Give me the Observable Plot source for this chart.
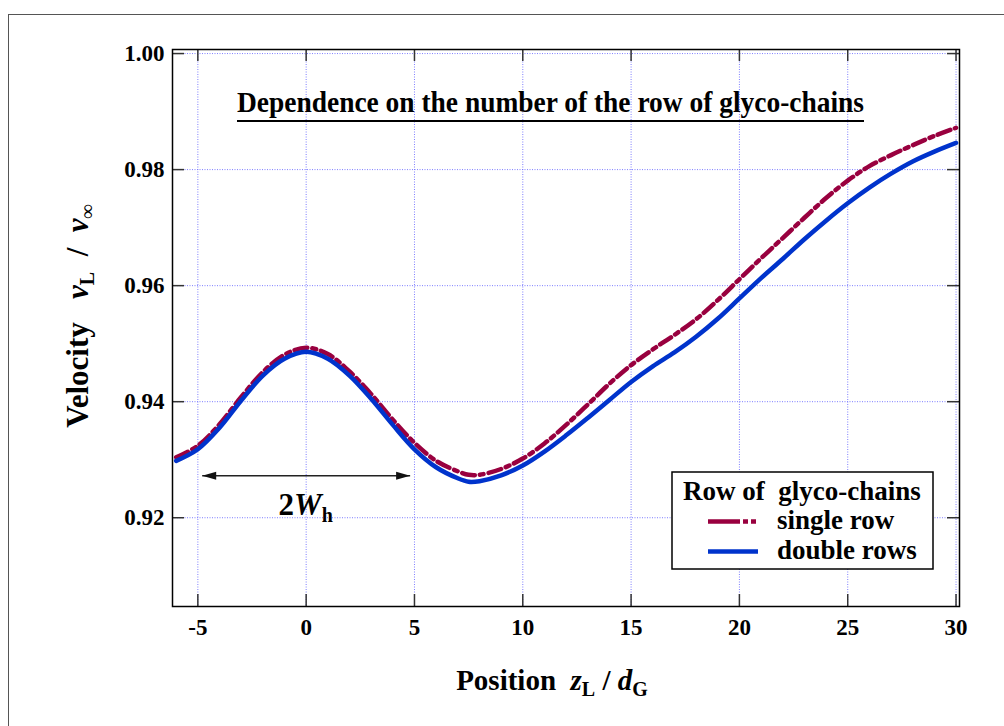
<!DOCTYPE html>
<html><head><meta charset="utf-8">
<script src="https://cdn.jsdelivr.net/npm/d3@7"></script>
<script src="https://cdn.jsdelivr.net/npm/@observablehq/plot@0.6"></script>
<style>
html,body{margin:0;padding:0;overflow:hidden;background:#fff;}
#wrap{position:relative;width:1004px;height:726px;}
#border{position:absolute;left:8px;top:14px;width:1100px;height:800px;border:1.5px solid #555;pointer-events:none;}
#chart{position:absolute;left:0;top:0;}
</style></head><body>
<div id="wrap"><div id="border"></div><div id="chart"></div></div>
<script>
// ---- data ----
const positions = [-6,-5,-4,-3,-2,-1,0,1,2,3,4,5,6,7,7.5,8,9,10,11,12,13,14,15,16,17,18,19,20,21,22,23,24,25,26,27,28,29,30];
const singleRow = [0.9304,0.9324,0.9361,0.9408,0.9451,0.9481,0.9493,0.9482,0.9452,0.9413,0.9369,0.9329,0.9298,0.9280,0.9274,0.9274,0.9284,0.9302,0.9328,0.9360,0.9395,0.9431,0.9463,0.9490,0.9515,0.9542,0.9575,0.9611,0.9647,0.9682,0.9717,0.9751,0.9781,0.9806,0.9825,0.9842,0.9858,0.9872];
const doubleRows = [0.9298,0.9318,0.9355,0.9402,0.9445,0.9474,0.9486,0.9474,0.9445,0.9405,0.9360,0.9318,0.9287,0.9268,0.9262,0.9263,0.9273,0.9290,0.9314,0.9342,0.9372,0.9403,0.9434,0.9461,0.9485,0.9512,0.9543,0.9578,0.9613,0.9646,0.9680,0.9712,0.9742,0.9769,0.9793,0.9814,0.9831,0.9846];
const xTicks = [-5,0,5,10,15,20,25,30];
const yTicks = [0.92,0.94,0.96,0.98,1.00];
const seriesNames = ["single row","double rows"];
const seriesColors = ["#99003f","#0033cc"];
const legendTitle = "Row of  glyco-chains";
const chartTitle = "Dependence on the number of the row of glyco-chains";
const arrowEnds = [-4.8, 4.8];
const arrowLevel = 0.92724;

// ---- layout ----
const W = 1004, H = 726, mL = 172, mT = 49, mR = 45, mB = 120;
const fw = W - mL - mR, fh = H - mT - mB, tickLen = 12;
const serif = "'Liberation Serif','Times New Roman',serif";
const gridStyle = {stroke: "#7070ff", strokeOpacity: 0.9, strokeDasharray: "1,1.5", strokeWidth: 1};
const tickStyle = {stroke: "#333", strokeWidth: 1.5};

const arrowHead = {draw(ctx) { ctx.moveTo(0, 0); ctx.lineTo(-14, -4); ctx.lineTo(-14, 4); ctx.closePath(); }};

const plot = Plot.plot({
  width: W, height: H, marginLeft: mL, marginTop: mT, marginRight: mR, marginBottom: mB,
  style: {fontFamily: serif, fontSize: "23px", fontWeight: "bold", color: "#000", background: "transparent", overflow: "visible"},
  x: {domain: [-6.17, 30.16]},
  y: {domain: [0.9047, 1.0007]},
  marks: [
    Plot.gridX(xTicks, gridStyle),
    Plot.gridY(yTicks, gridStyle),
    Plot.tickY(yTicks, {y: d => d, insetRight: fw - tickLen, ...tickStyle}),
    Plot.tickY(yTicks, {y: d => d, insetLeft: fw - tickLen, ...tickStyle}),
    Plot.tickX(xTicks, {x: d => d, insetTop: fh - tickLen, ...tickStyle}),
    Plot.tickX(xTicks, {x: d => d, insetBottom: fh - tickLen, ...tickStyle}),
    Plot.axisX({ticks: xTicks, tickSize: 0, tickPadding: 12, tickFormat: d => String(d), label: null, fontSize: 23, fontWeight: "bold"}),
    Plot.axisY({ticks: yTicks, tickSize: 0, tickPadding: 8, tickFormat: d => d.toFixed(2), label: null, fontSize: 23, fontWeight: "bold"}),
    Plot.line(positions, {x: d => d, y: singleRow, stroke: seriesColors[0], strokeWidth: 4.5, strokeDasharray: "13,5,4,5", curve: "catmull-rom"}),
    Plot.line(positions, {x: d => d, y: doubleRows, stroke: seriesColors[1], strokeWidth: 4.5, curve: "catmull-rom"}),
    Plot.link([arrowEnds], {x1: d => d[0], x2: d => d[1], y1: () => arrowLevel, y2: () => arrowLevel, stroke: "#222", strokeWidth: 1.5}),
    Plot.dot(arrowEnds, {x: d => d, y: () => arrowLevel, symbol: arrowHead, rotate: (d, i) => i === 0 ? 180 : 0, fill: "#111", stroke: "none"}),
    Plot.frame({stroke: "#000", strokeWidth: 1.5})
  ]
});
document.getElementById("chart").appendChild(plot);

const svg = d3.select(plot);
const sx = plot.scale("x"), sy = plot.scale("y");
const g = svg.append("g").attr("font-family", serif).attr("font-weight", "bold").attr("fill", "#000")
  .attr("text-anchor", "start").style("white-space", "pre");

// chart title (inside frame), underlined
g.append("text").attr("x", 237).attr("y", 112).attr("font-size", 30).attr("text-anchor", "start")
  .attr("textLength", 627).attr("lengthAdjust", "spacingAndGlyphs").text(chartTitle);
g.append("line").attr("x1", 237).attr("x2", 864).attr("y1", 121).attr("y2", 121).attr("stroke", "#000").attr("stroke-width", 2);

// 2W_h label
const wl = g.append("text").attr("x", sx.apply(0)).attr("y", sy.apply(arrowLevel) + 40).attr("text-anchor", "middle").attr("font-size", 31);
wl.append("tspan").text("2");
wl.append("tspan").attr("font-style", "italic").text("W");
wl.append("tspan").attr("font-size", 20).attr("dy", 7).text("h");

// x axis title
const xl = g.append("text").attr("x", 552).attr("y", 690).attr("text-anchor", "middle").attr("font-size", 29);
xl.append("tspan").text("Position  ");
xl.append("tspan").attr("font-style", "italic").text("z");
xl.append("tspan").attr("font-size", 20).attr("dy", 6).text("L");
xl.append("tspan").attr("dy", -6).text(" / ");
xl.append("tspan").attr("font-style", "italic").text("d");
xl.append("tspan").attr("font-size", 20).attr("dy", 6).text("G");

// y axis title
const yl = g.append("text").attr("transform", "translate(88,316) rotate(-90)").attr("text-anchor", "middle").attr("font-size", 31);
yl.append("tspan").text("Velocity   ");
yl.append("tspan").attr("font-style", "italic").text("v");
yl.append("tspan").attr("font-size", 20).attr("dy", 6).text("L");
yl.append("tspan").attr("dy", -6).text("  /  ");
yl.append("tspan").attr("font-style", "italic").text("v");
yl.append("tspan").attr("font-size", 20).attr("dy", 6).text("\u221E");

// legend
const lg = g.append("g");
lg.append("rect").attr("x", 672).attr("y", 472).attr("width", 261).attr("height", 97).attr("fill", "#fff").attr("stroke", "#000").attr("stroke-width", 1.5);
lg.append("text").attr("x", 683).attr("y", 500).attr("font-size", 27).attr("text-anchor", "start").text(legendTitle);
const rowsY = [521.5, 551.5];
seriesNames.forEach((name, i) => {
  lg.append("line").attr("x1", 708).attr("x2", 758).attr("y1", rowsY[i]).attr("y2", rowsY[i])
    .attr("stroke", seriesColors[i]).attr("stroke-width", 4.5)
    .attr("stroke-dasharray", i === 0 ? "32,3,5,3,5,3" : null);
  lg.append("text").attr("x", 777).attr("y", rowsY[i] + 7).attr("font-size", 27).attr("text-anchor", "start").text(name);
});
</script>
</body></html>
